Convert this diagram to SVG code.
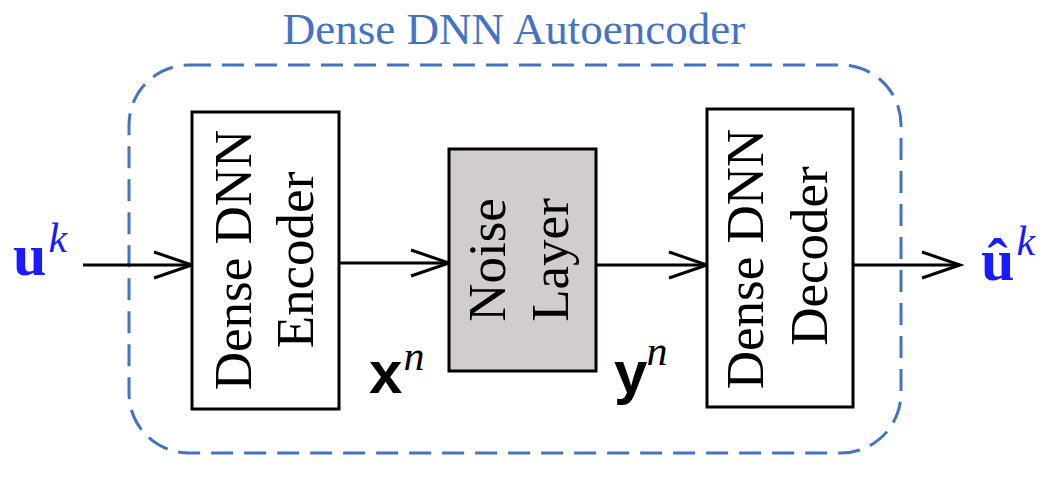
<svg xmlns="http://www.w3.org/2000/svg" width="1052" height="477" viewBox="0 0 1052 477">
<style>
.box{fill:#fff;stroke:#000;stroke-width:3}
.noise{fill:#d0cdcc;stroke:#000;stroke-width:3}
.lbl{font-family:"Liberation Serif","Times New Roman",serif;font-size:53px;fill:#000;text-anchor:middle}
.conn{stroke:#000;stroke-width:3;fill:none}
.sym{font-family:"Liberation Sans",Arial,sans-serif;font-weight:bold;font-size:60px;fill:#000}
.sup{font-family:"Liberation Serif","Times New Roman",serif;font-style:italic;font-weight:normal;font-size:42px}
.io{font-family:"Liberation Serif","Times New Roman",serif;font-weight:bold;font-size:60px;fill:#1a1aff}
</style>
<defs>
<marker id="chev" markerUnits="userSpaceOnUse" markerWidth="44" markerHeight="32" viewBox="-2 -2 44 32" refX="38" refY="13" orient="auto" overflow="visible">
<path d="M0,0 L38,13 L0,26" fill="none" stroke="#000" stroke-width="3"/>
</marker>
</defs>
<rect x="129" y="65" width="772" height="388" rx="60" ry="60" fill="none" stroke="#4472C4" stroke-width="3" stroke-dasharray="22 11"/>
<text x="514" y="44" font-family="Liberation Serif,'Times New Roman',serif" font-size="45" fill="#4472C4" text-anchor="middle">Dense DNN Autoencoder</text>
<g id="connectors">
<line class="conn" x1="83" y1="265" x2="192" y2="265" marker-end="url(#chev)"/>
<line class="conn" x1="339" y1="263" x2="449" y2="263" marker-end="url(#chev)"/>
<line class="conn" x1="596" y1="265" x2="707" y2="265" marker-end="url(#chev)"/>
<line class="conn" x1="853" y1="265" x2="960" y2="265" marker-end="url(#chev)"/>
</g>
<g id="encoder">
<rect class="box" x="192" y="112" width="147" height="297"/>
<text class="lbl" transform="translate(251,260) rotate(-90)">Dense DNN</text>
<text class="lbl" transform="translate(313,260) rotate(-90)">Encoder</text>
</g>
<g id="noise">
<rect class="noise" x="449" y="149" width="147" height="222"/>
<text class="lbl" transform="translate(505,260) rotate(-90)">Noise</text>
<text class="lbl" transform="translate(568,260) rotate(-90)">Layer</text>
</g>
<g id="decoder">
<rect class="box" x="707" y="109" width="146" height="298"/>
<text class="lbl" transform="translate(763,259) rotate(-90)">Dense DNN</text>
<text class="lbl" transform="translate(827,256) rotate(-90)">Decoder</text>
</g>
<g id="labels">
<text class="sym" x="369" y="393">x<tspan class="sup" dy="-23" dx="1">n</tspan></text>
<text class="sym" x="614" y="393">y<tspan class="sup" dy="-28" dx="-1">n</tspan></text>
<text class="io" x="13" y="275">u<tspan class="sup" font-size="44" dy="-23" dx="2">k</tspan></text>
<text class="io" x="981" y="280">û<tspan class="sup" font-size="44" dy="-25" dx="2">k</tspan></text>
</g>
</svg>
